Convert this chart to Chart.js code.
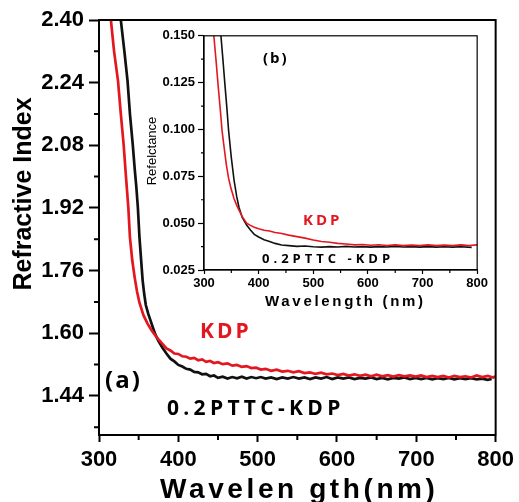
<!DOCTYPE html>
<html>
<head>
<meta charset="utf-8">
<script src="https://cdn.jsdelivr.net/npm/chart.js@4"></script>
<style>
html, body { margin: 0; padding: 0; background: #fff; }
#wrap { position: relative; width: 519px; height: 502px; }
#main { position: absolute; left: 0; top: 0; }
#inset { position: absolute; left: 140px; top: 25px; }
</style>
</head>
<body>
<div id="wrap">
<canvas id="main" width="519" height="502"></canvas>
<canvas id="inset" width="350" height="290"></canvas>
</div>
<script>
// (a) refractive index vs wavelength
var kdpWave = [315,319,324,327.5,331,334,337,339,342,345,348,351,356,361,366,370,375,380,385,390,395,400,405,410,415,420,425,430,435,440,445,450,456,462,468,474,480,486,492,498,504,510,517,524,531,538,545,552,559,566,573,580,587,594,601,608,615,622,629,636,643,650,657,664,671,678,685,692,699,706,713,720,727,734,741,748,755,762,769,776,783,790,797,800];
var kdpIndex = [2.400,2.320,2.244,2.160,2.083,2.000,1.920,1.845,1.785,1.742,1.706,1.678,1.646,1.625,1.608,1.597,1.584,1.573,1.561,1.556,1.548,1.547,1.541,1.540,1.535,1.537,1.531,1.533,1.527,1.529,1.524,1.526,1.521,1.523,1.517,1.519,1.514,1.516,1.511,1.512,1.507,1.509,1.504,1.507,1.502,1.504,1.500,1.503,1.498,1.500,1.496,1.499,1.495,1.497,1.493,1.496,1.492,1.495,1.491,1.494,1.490,1.494,1.490,1.493,1.489,1.493,1.490,1.492,1.489,1.492,1.488,1.491,1.488,1.491,1.487,1.491,1.488,1.490,1.487,1.492,1.488,1.491,1.487,1.490];

var pttcWave = [327.5,332,336,339,342.5,345,347,349,351,353,355,357,359,362,365,368,371,375,380,385,390,395,400,405,410,415,420,425,430,435,440,445,450,456,462,468,474,480,486,492,498,504,510,517,524,531,538,545,552,559,566,573,580,587,594,601,608,615,622,629,636,643,650,657,664,671,678,685,692,699,706,713,720,727,734,741,748,755,762,769,776,783,790,795];
var pttcIndex = [2.400,2.320,2.244,2.160,2.083,2.020,1.975,1.921,1.845,1.790,1.735,1.700,1.672,1.650,1.632,1.614,1.597,1.580,1.563,1.548,1.535,1.528,1.519,1.515,1.509,1.507,1.501,1.500,1.495,1.496,1.490,1.492,1.486,1.489,1.484,1.488,1.485,1.489,1.484,1.488,1.485,1.488,1.484,1.487,1.483,1.487,1.484,1.488,1.484,1.487,1.483,1.487,1.484,1.488,1.483,1.487,1.484,1.487,1.483,1.486,1.484,1.487,1.483,1.486,1.482,1.486,1.484,1.487,1.483,1.486,1.483,1.486,1.482,1.485,1.483,1.486,1.482,1.485,1.483,1.485,1.482,1.484,1.481,1.483];

// (b) reflectance inset
var kdpReflWave = [318,322,326,330,333,337,341,345,349,355,360,364,370,378,385,392,400,410,420,430,440,455,470,485,500,515,530,545,560,576,590,605,620,635,650,665,680,695,710,725,740,755,770,785,800];
var kdpRefl = [0.150,0.137,0.123,0.110,0.0995,0.090,0.081,0.074,0.069,0.063,0.0595,0.057,0.0535,0.0500,0.0488,0.0478,0.0470,0.0462,0.0458,0.0450,0.0446,0.0436,0.0428,0.0420,0.0410,0.0402,0.0398,0.0392,0.0389,0.0384,0.0386,0.0382,0.0385,0.0381,0.0384,0.0380,0.0383,0.0381,0.0384,0.0380,0.0383,0.0381,0.0384,0.0381,0.0384];

var pttcReflWave = [331,335,338,342,345,350,355,360,364,370,378,385,392,400,410,420,430,442,455,470,485,500,515,530,545,560,575,590,605,620,635,650,665,680,695,710,725,740,755,770,790];
var pttcRefl = [0.150,0.136,0.125,0.111,0.0995,0.085,0.073,0.064,0.0585,0.0530,0.0490,0.0463,0.0440,0.0426,0.0412,0.0402,0.0392,0.0383,0.0380,0.0376,0.0378,0.0374,0.0372,0.0375,0.0373,0.0376,0.0373,0.0375,0.0372,0.0375,0.0373,0.0376,0.0373,0.0375,0.0372,0.0375,0.0372,0.0374,0.0372,0.0374,0.0371];

var waveTicks = [300,400,500,600,700,800];
var waveMinor = [350,450,550,650,750];
var indexTicks = [1.44,1.60,1.76,1.92,2.08,2.24,2.40];
var indexMinor = [1.36,1.52,1.68,1.84,2.00,2.16,2.32];
var reflTicks = [0.025,0.050,0.075,0.100,0.125,0.150];
var reflMinor = [0.0375,0.0625,0.0875,0.1125,0.1375];

var RED = '#e3171f';
var BLACK = '#111111';
var AXISFONT = 'Liberation Sans';
var NOTEFONT = 'Open Sans';

function pts(xs, ys) {
  return xs.map(function (x, i) { return {x: x, y: ys[i]}; });
}

function decor(cfg) {
  return {
    id: 'decor',
    afterDraw: function (chart) {
      var ctx = chart.ctx, a = chart.chartArea;
      var sx = chart.scales.x, sy = chart.scales.y;
      ctx.save();
      ctx.strokeStyle = '#000';
      ctx.lineWidth = cfg.frame;
      ctx.strokeRect(a.left, a.top, a.right - a.left, a.bottom - a.top);
      ctx.lineWidth = cfg.tickWidth;
      ctx.beginPath();
      cfg.minorX.forEach(function (v) {
        var px = sx.getPixelForValue(v);
        ctx.moveTo(px, a.bottom); ctx.lineTo(px, a.bottom + cfg.minorLen);
      });
      cfg.minorY.forEach(function (v) {
        var py = sy.getPixelForValue(v);
        ctx.moveTo(a.left, py); ctx.lineTo(a.left - cfg.minorLen, py);
      });
      ctx.stroke();
      cfg.texts.forEach(function (t) {
        ctx.save();
        ctx.font = t.font;
        ctx.fillStyle = t.color || '#000';
        if ('letterSpacing' in ctx) ctx.letterSpacing = (t.spacing || 0) + 'px';
        if (t.rotate) {
          ctx.translate(t.x, t.y);
          ctx.rotate(-Math.PI / 2);
          ctx.textAlign = 'center';
          ctx.textBaseline = 'middle';
          ctx.fillText(t.text, 0, 0);
        } else {
          ctx.textAlign = 'left';
          ctx.textBaseline = 'alphabetic';
          ctx.fillText(t.text, t.x, t.y);
        }
        ctx.restore();
      });
      ctx.restore();
    }
  };
}

function axis(min, max, major, fmt, size, len, width, fitFn, pad) {
  return {
    type: 'linear', min: min, max: max,
    afterBuildTicks: function (s) { s.ticks = major.map(function (v) { return {value: v}; }); },
    afterFit: fitFn,
    ticks: {
      callback: fmt, color: '#000', padding: pad, maxRotation: 0, autoSkip: false,
      font: {family: AXISFONT, weight: 'bold', size: size}
    },
    grid: {drawOnChartArea: false, tickLength: len, tickWidth: width, tickColor: '#000'},
    border: {color: '#000', width: width}
  };
}

Chart.defaults.animation = false;
Chart.defaults.plugins.legend.display = false;
Chart.defaults.plugins.tooltip.enabled = false;
Chart.defaults.elements.point.radius = 0;
Chart.defaults.elements.line.tension = 0;

new Chart(document.getElementById('main'), {
  type: 'line',
  data: {
    datasets: [
      {label: 'KDP', data: pts(kdpWave, kdpIndex), borderColor: RED, borderWidth: 2.7},
      {label: '0.2PTTC-KDP', data: pts(pttcWave, pttcIndex), borderColor: BLACK, borderWidth: 2.7}
    ]
  },
  options: {
    responsive: false,
    layout: {padding: {top: 20, right: 19, left: 0, bottom: 0}},
    scales: {
      x: axis(300, 800, waveTicks, function (v) { return String(v); }, 22, 7, 2,
        function (s) { s.height = 67; }, 5),
      y: axis(1.34, 2.40, indexTicks, function (v) { return v.toFixed(2); }, 22, 10, 2,
        function (s) { s.width = 99; }, 5)
    }
  },
  plugins: [decor({
    frame: 2, tickWidth: 2, minorLen: 5, minorX: waveMinor, minorY: indexMinor,
    texts: [
      {text: 'Refractive Index', x: 24, y: 194, rotate: true, font: 'bold 25px "' + AXISFONT + '"'},
      {text: 'Wavelen gth(nm)', x: 160, y: 498, spacing: 3.6, font: 'bold 28px "' + AXISFONT + '"'},
      {text: '(a)', x: 105, y: 388, spacing: 2, font: 'bold 24px "' + NOTEFONT + '"'},
      {text: 'KDP', x: 200, y: 338, spacing: 3, color: RED, font: 'bold 21px "' + NOTEFONT + '"'},
      {text: '0.2PTTC-KDP', x: 167, y: 415, spacing: 4.3, font: 'bold 21px "' + NOTEFONT + '"'}
    ]
  })]
});

new Chart(document.getElementById('inset'), {
  type: 'line',
  data: {
    datasets: [
      {label: 'KDP', data: pts(kdpReflWave, kdpRefl), borderColor: RED, borderWidth: 1.6},
      {label: '0.2PTTC -KDP', data: pts(pttcReflWave, pttcRefl), borderColor: BLACK, borderWidth: 1.6}
    ]
  },
  options: {
    responsive: false,
    layout: {padding: {top: 10, right: 10, left: 0, bottom: 0}},
    scales: {
      x: axis(300, 800, waveTicks, function (v) { return String(v); }, 13, 4, 1.2,
        function (s) { s.height = 45; }, 2),
      y: axis(0.025, 0.150, reflTicks, function (v) { return v.toFixed(3); }, 13, 6, 1.2,
        function (s) { s.width = 64; }, 3)
    }
  },
  plugins: [decor({
    frame: 1.2, tickWidth: 1.2, minorLen: 3, minorX: waveMinor, minorY: reflMinor,
    texts: [
      {text: 'Refelctance', x: 12, y: 126, rotate: true, font: '13px "' + AXISFONT + '"'},
      {text: 'Wavelength (nm)', x: 125, y: 281, spacing: 2.7, font: 'bold 15px "' + AXISFONT + '"'},
      {text: '(b)', x: 123, y: 38, spacing: 2, font: 'bold 15px "' + NOTEFONT + '"'},
      {text: 'KDP', x: 163, y: 200, spacing: 3, color: RED, font: 'bold 15px "' + NOTEFONT + '"'},
      {text: '0.2PTTC -KDP', x: 122, y: 238, spacing: 4, font: 'bold 13px "' + NOTEFONT + '"'}
    ]
  })]
});
</script>
</body>
</html>
